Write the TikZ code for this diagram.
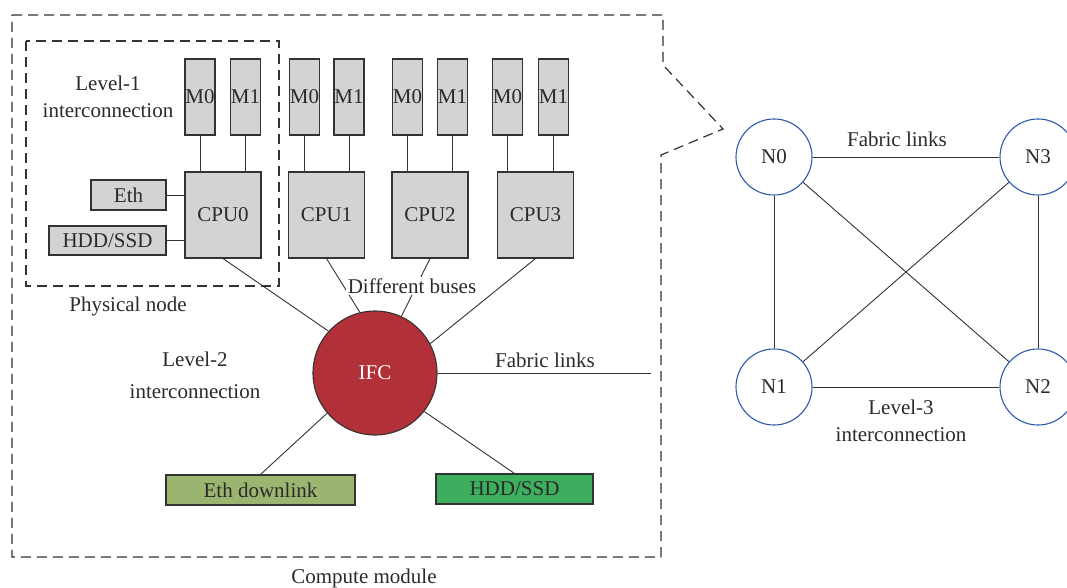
\documentclass[tikz,border=0pt]{standalone}
\usepackage{fontspec}
\setmainfont{Liberation Serif}
\begin{document}
\begin{tikzpicture}[x=1pt,y=-1pt,
	every node/.style={font=\fontsize{21}{27}\selectfont, text=txt},
	membox/.style={draw=edge, fill=boxgray, line width=1.1pt, minimum width=30pt, minimum height=76pt, inner sep=0pt},
	cpubox/.style={draw=edge, fill=boxgray, line width=1.1pt, minimum width=76pt, minimum height=86pt, inner sep=0pt},
	iobox/.style={draw=edge, line width=1.1pt, minimum height=30pt, inner sep=0pt},
	nnode/.style={circle, draw=nblue, line width=1.1pt, minimum size=76pt, inner sep=0pt},
	link/.style={draw=edge, line width=0.9pt},
	frame/.style={draw=edge, line width=1.2pt, dash pattern=on 10pt off 6pt}]
	\definecolor{txt}{HTML}{2A2A2A}
	\definecolor{edge}{HTML}{333333}
	\definecolor{boxgray}{HTML}{D3D3D5}
	\definecolor{ifcred}{HTML}{B23037}
	\definecolor{dlgreen}{HTML}{9BB46F}
	\definecolor{hddgreen}{HTML}{3DAE5E}
	\definecolor{nblue}{HTML}{2F5AA8}
	\useasboundingbox (0,0) rectangle (1067,588);
	
	% compute module and physical node
	\draw[frame] (12,15) -- (663,15) -- (663,65) -- (723,129) -- (661,155) -- (661,557) -- (12,557) -- cycle;
	\draw[frame] (26,41) rectangle (279,286);
	\node at (364,578) {Compute module};
	\node at (128,306) {Physical node};
	\node[align=center] at (108,97) {Level-1\\interconnection};
	\node[align=center] at (195,375) {Level-2\\[5pt]interconnection};
	
	% CPUs with memories
	\foreach \i/\x/\a/\b in {0/223/200/245.5, 1/326.5/304.5/349, 2/430/407.5/452.5, 3/535.5/507.5/553.5}
	{
		\node[cpubox] (cpu\i) at (\x,215) {CPU\i};
		\node[membox] (ma\i) at (\a,97) {M0};
		\node[membox] (mb\i) at (\b,97) {M1};
		\draw[link] (ma\i.south) -- (ma\i.south |- cpu\i.north);
		\draw[link] (mb\i.south) -- (mb\i.south |- cpu\i.north);
	}
	\node[iobox, fill=boxgray, minimum width=75pt] (eth) at (128.5,195) {Eth};
	\node[iobox, fill=boxgray, minimum width=117pt, minimum height=29pt] (hdd) at (107.5,240.5) {HDD/SSD};
	\draw[link] (eth.east) -- (eth.east -| cpu0.west);
	\draw[link] (hdd.east) -- (hdd.east -| cpu0.west);
	
	% IFC
	\node[circle, draw=edge, line width=1.1pt, fill=ifcred, minimum size=124pt, inner sep=0pt, text=white] (ifc) at (375,373) {IFC};
	\node[iobox, fill=dlgreen, minimum width=189pt] (edl) at (260.5,490) {Eth downlink};
	\node[iobox, fill=hddgreen, minimum width=157pt] (hdd2) at (514.5,489) {HDD/SSD};
	\coordinate (fab) at (651,373);
	\draw[link] (cpu0.south) -- (ifc.138);
	\draw[link] (cpu1.south) -- (ifc.104);
	\draw[link] (cpu2.south) -- (ifc.65);
	\draw[link] (cpu3.south) -- (ifc.28);
	\draw[link] (ifc.220) -- (edl.north);
	\draw[link] (ifc.-38) -- (hdd2.north);
	\draw[link] (ifc.east) -- (fab);
	\node[fill=white, inner sep=2pt] at (412,286) {Different buses};
	\node at (545,360) {Fabric links};
	
	% level-3 network
	\node[nnode] (n0) at (774,157) {N0};
	\node[nnode] (n3) at (1038,157) {N3};
	\node[nnode] (n1) at (774,387) {N1};
	\node[nnode] (n2) at (1038,387) {N2};
	\draw[link] (n0) -- (n3);
	\draw[link] (n1) -- (n2);
	\draw[link] (n0) -- (n1);
	\draw[link] (n3) -- (n2);
	\draw[link] (n0) -- (n2);
	\draw[link] (n1) -- (n3);
	\node at (897,139) {Fabric links};
	\node[align=center] at (901,421) {Level-3\\interconnection};
	
\end{tikzpicture}
\end{document}
